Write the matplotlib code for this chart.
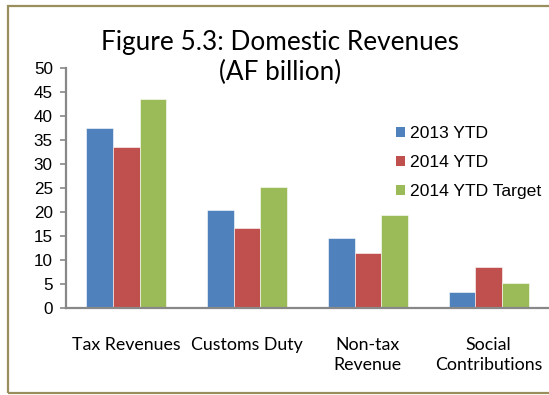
import numpy as np
import matplotlib
matplotlib.use("Agg")
import matplotlib.pyplot as plt
from matplotlib.patches import Rectangle

# Domestic revenues, AF billion
categories = ["Tax Revenues", "Customs Duty", "Non-tax\nRevenue", "Social\nContributions"]
series_names = ["2013 YTD", "2014 YTD", "2014 YTD Target"]
ytd_2013 = [37.4, 20.4, 14.6, 3.4]
ytd_2014 = [33.6, 16.6, 11.5, 8.5]
target_2014 = [43.5, 25.3, 19.3, 5.3]
colors = ["#4F81BD", "#C0504D", "#9BBB59"]

W, H = 549, 395
fig = plt.figure(figsize=(W / 100, H / 100), dpi=100)
ax = fig.add_axes([66 / W, 1 - 308 / H, (W - 66) / W, 240 / H])

x = np.arange(len(categories))
bw = 0.221
for i, (vals, name, c) in enumerate(zip([ytd_2013, ytd_2014, target_2014], series_names, colors)):
    ax.bar(x + (i - 1) * bw, vals, width=bw, color=c, label=name,
           edgecolor="white", linewidth=0.4, zorder=2)

ax.set_xlim(-0.5, 3.5)
ax.set_ylim(0, 50)
ax.set_yticks(np.arange(0, 51, 5))
ax.set_xticks(x)
ax.set_xticklabels(categories, fontfamily="Lato", fontsize=12.8, va="top",
                   linespacing=1.3)
ax.tick_params(axis="x", length=0, pad=21)
ax.tick_params(axis="y", length=4.5, width=1.2, color="#888888", pad=5,
               labelsize=12.3)
for lbl in ax.get_yticklabels():
    lbl.set_fontfamily("Liberation Sans")

for s in ["top", "right"]:
    ax.spines[s].set_visible(False)
for s in ["left", "bottom"]:
    ax.spines[s].set_color("#888888")
    ax.spines[s].set_linewidth(1.6)

leg = ax.legend(loc="upper left", bbox_to_anchor=(396 / W, 1 - 126 / H),
                bbox_transform=fig.transFigure, frameon=False,
                prop={"family": "Liberation Sans", "size": 12.6},
                handlelength=0.5, handleheight=0.5, handletextpad=0.3,
                labelspacing=0.8, borderpad=0, borderaxespad=0)
for h in leg.legend_handles:
    h.set_linewidth(0)

fig.text(280 / W, 1 - 30 / H, "Figure 5.3: Domestic Revenues\n(AF billion)",
         ha="center", va="top", fontfamily="Lato", fontsize=18.8,
         linespacing=1.25, multialignment="center")

# olive outer border
fig.patches.append(Rectangle((8 / W, 1 - 393 / H), 1.2, (393 - 6) / H,
                             transform=fig.transFigure, fill=False,
                             edgecolor="#9A8F5C", linewidth=1.6, zorder=0))

fig.savefig("out.png", dpi=100)
